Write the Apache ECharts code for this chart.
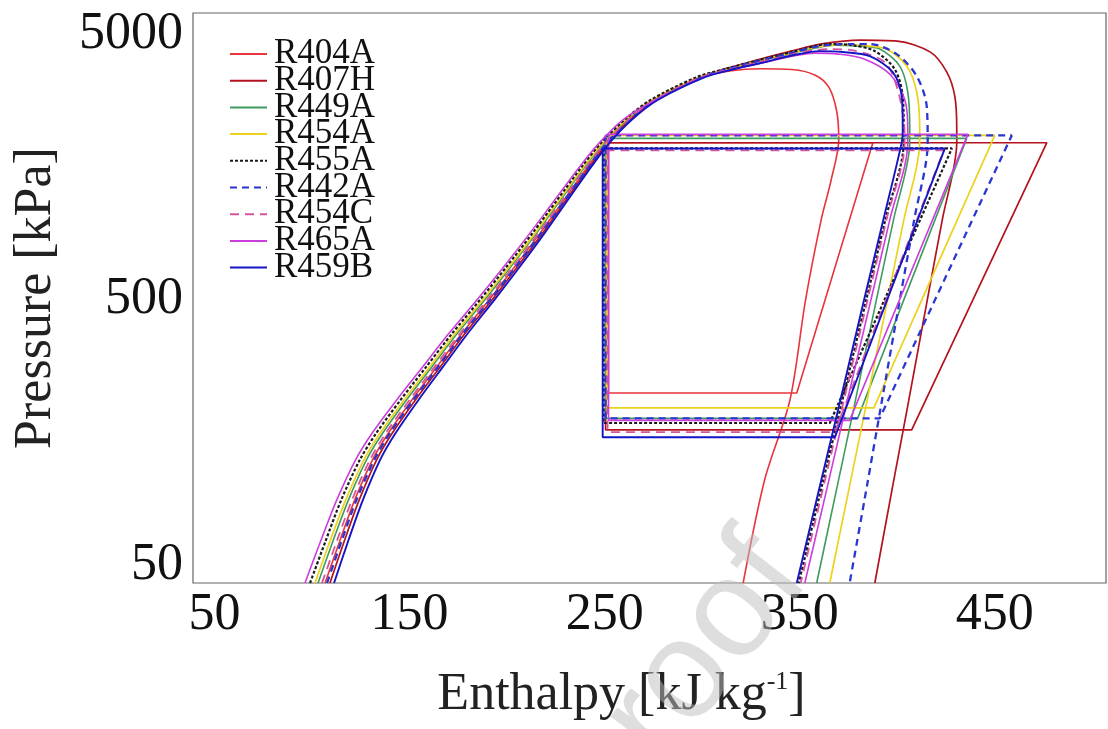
<!DOCTYPE html>
<html><head><meta charset="utf-8">
<script src="https://cdn.jsdelivr.net/npm/echarts@6/dist/echarts.min.js"></script>
<style>html,body{margin:0;padding:0;background:#fff}#c{width:1108px;height:729px}</style>
</head><body><div id="c"></div>
<script>
// ---------- data (enthalpy kJ/kg, pressure kPa) ----------
const names = ['R404A','R407H','R449A','R454A','R455A','R442A','R454C','R465A','R459B'];
const xTicks = [50,150,250,350,450];
const yTicks = [50,500,5000];

// saturation domes: liquid line (bottom→top), critical region, vapour line (top→bottom)
const R404A_sat = [[106.7,43],[114.3,62],[121.8,88],[130.9,124.5],[139.0,157],[151.2,210],[163.8,279],[177.0,375],[190.8,500],[203.9,666],[217.1,895],[229.3,1192],[241.4,1588],[251.1,1956],[262.8,2388],[275.6,2817],[299.6,3440],[315,3640],[330,3700],[346,3680],[358,3500],[365,3150],[369,2550],[370,2000],[366,1400],[361,1000],[353,500],[345,210],[332,105],[321,43]];
const R407H_sat = [[109.2,43],[116.6,62],[124.1,88],[133.0,124.5],[141.0,157],[153.0,210],[165.6,279],[178.6,375],[192.3,500],[205.3,666],[218.4,895],[230.4,1192],[242.4,1588],[252.0,1956],[263.5,2388],[275.8,2817],[298.9,3440],[313,3720],[328,3990],[346,4320],[362,4600],[381,4746],[400,4704],[417,4275],[425.4,3594],[429.5,2917],[430.5,2190],[430.5,1956],[423.1,1002],[415.4,500],[405.4,200],[397.7,100],[388.5,43]];
const R449A_sat = [[103.1,43],[110.8,62],[118.6,88],[127.8,124.5],[136.1,157],[148.4,210],[161.3,279],[174.6,375],[188.6,500],[201.9,666],[215.3,895],[227.6,1192],[240.0,1588],[249.8,1956],[261.7,2388],[274.5,2817],[298.7,3440],[313,3688],[327,3920],[345,4210],[358,4430],[368,4540],[380,4500],[391,4389],[401.3,3785],[405.4,3020],[406.4,2190],[406.4,1956],[398.1,1002],[389.3,500],[378.0,200],[369.3,100],[358.7,43]];
const R454A_sat = [[101.5,43],[109.3,62],[117.2,88],[126.5,124.5],[134.8,157],[147.2,210],[160.2,279],[173.6,375],[187.6,500],[201.1,666],[214.5,895],[226.9,1192],[239.4,1588],[249.3,1956],[261.2,2388],[274.0,2817],[298.2,3440],[313,3690],[327,3930],[345,4230],[358,4450],[370.5,4560],[383,4520],[394.6,4389],[404.9,3785],[410.0,3020],[411.5,2190],[411.5,1956],[403.4,1002],[395.0,500],[384.0,200],[375.6,100],[365.4,43]];
const R455A_sat = [[99.0,43],[107.0,62],[114.9,88],[124.4,124.5],[132.8,157],[145.4,210],[158.4,279],[172.0,375],[186.1,500],[199.7,666],[213.2,895],[225.8,1192],[238.4,1588],[248.4,1956],[260.5,2388],[273.3,2817],[297.1,3440],[312,3700],[327,3950],[345,4260],[365.4,4584],[377,4540],[388.5,4313],[398.7,3688],[402.8,2917],[403.3,2190],[403.3,1956],[393.9,1002],[384.1,500],[371.2,200],[361.4,100],[349.5,43]];
const R442A_sat = [[107.7,43],[115.2,62],[122.7,88],[131.8,124.5],[139.8,157],[151.9,210],[164.5,279],[177.6,375],[191.4,500],[204.5,666],[217.6,895],[229.7,1192],[241.8,1588],[251.5,1956],[263.1,2388],[275.9,2817],[299.8,3440],[313,3690],[327,3930],[345,4230],[360,4500],[375.6,4584],[385.9,4584],[399.7,4202],[410.0,3471],[415.1,2674],[415.6,1956],[408.7,1002],[401.3,500],[391.7,200],[384.5,100],[375.6,43]];
const R454C_sat = [[105.1,43],[112.8,62],[120.4,88],[129.6,124.5],[137.7,157],[150.0,210],[162.7,279],[176.0,375],[189.8,500],[203.1,666],[216.3,895],[228.6,1192],[240.8,1588],[250.6,1956],[262.3,2388],[275.1,2817],[299.2,3440],[314,3680],[328,3900],[345,4170],[356,4330],[365.4,4389],[378,4330],[393.6,3919],[399.7,3182],[403.3,2388],[403.8,1956],[394.5,1002],[384.8,500],[372.0,200],[362.3,100],[350.5,43]];
const R465A_sat = [[96.4,43],[104.5,62],[112.6,88],[122.2,124.5],[130.7,157],[143.4,210],[156.6,279],[170.3,375],[184.6,500],[198.3,666],[211.9,895],[224.6,1192],[237.3,1588],[247.5,1956],[259.7,2388],[275.8,2817],[300.9,3440],[315,3670],[330,3880],[346,4130],[357.7,4239],[370,4200],[383.3,4022],[396.2,3531],[403.8,2842],[405.4,2190],[405.4,1956],[396.2,1002],[386.5,500],[373.8,200],[364.3,100],[352.6,43]];
const R459B_sat = [[111.3,43],[118.6,62],[126.0,88],[134.8,124.5],[142.7,157],[154.6,210],[167.0,279],[180.0,375],[193.5,500],[206.5,666],[219.4,895],[231.3,1192],[243.3,1588],[252.7,1956],[264.2,2388],[277.0,2817],[301.4,3440],[315,3670],[330,3890],[346,4150],[360.3,4313],[372,4280],[385.9,4129],[397.7,3594],[402.3,2917],[402.8,2190],[402.3,1956],[392.9,1002],[383.0,500],[370.2,200],[360.4,100],[348.5,43]];

// refrigeration cycles: condenser outlet → evaporator inlet → evaporator outlet → compressor discharge → back
const R404A_cyc = [[252,1950],[252,223],[348.5,223],[387.5,1950],[252,1950]];
const R407H_cyc = [[250.5,1950],[250.5,162],[407.4,162],[476.7,1950],[250.5,1950]];
const R449A_cyc = [[250.5,2025],[250.5,179],[379.7,179],[435.6,2025],[250.5,2025]];
const R454A_cyc = [[251,2078],[251,196],[388,196],[450,2078],[251,2078]];
const R455A_cyc = [[249.5,1856],[249.5,172],[365.4,172],[428,1856],[249.5,1856]];
const R442A_cyc = [[250.5,2078],[250.5,179],[391,179],[458.7,2078],[250.5,2078]];
const R454C_cyc = [[251.5,1824],[251.5,159],[368,159],[423.8,1824],[251.5,1824]];
const R465A_cyc = [[252,2097],[252,176],[375.6,176],[436.2,2097],[252,2097]];
const R459B_cyc = [[249,1856],[249,152],[368,152],[424.4,1856],[249,1856]];

// ---------- styles ----------
const satData = [R404A_sat,R407H_sat,R449A_sat,R454A_sat,R455A_sat,R442A_sat,R454C_sat,R465A_sat,R459B_sat];
const cycData = [R404A_cyc,R407H_cyc,R449A_cyc,R454A_cyc,R455A_cyc,R442A_cyc,R454C_cyc,R465A_cyc,R459B_cyc];
const colors = ['#e8343c','#b3121e','#3f9a5e','#ecd21c','#1a1a1a','#2b35d0','#d4559c','#cc3ddd','#1414c4'];
const dashes = ['solid','solid','solid','solid',[3,2],[7,5],[9,6],'solid','solid'];
const widths = [1.6,1.7,1.6,1.7,2.2,2.3,1.8,1.6,1.9];

const FONT = 'Liberation Serif';
const series = [];
names.forEach((n,i)=>{
  const ls = {color:colors[i], width:widths[i], type:dashes[i]};
  series.push({name:n, type:'line', data:satData[i], symbol:'none', smooth:0.3, lineStyle:ls, itemStyle:{color:colors[i]}, silent:true});
  series.push({name:n, type:'line', data:cycData[i], symbol:'none', smooth:false, lineStyle:ls, itemStyle:{color:colors[i]}, silent:true});
});

const chart = echarts.init(document.getElementById('c'), null, {renderer:'canvas'});
chart.setOption({
  animation:false,
  backgroundColor:'#fff',
  grid:{left:193, right:2, top:13, bottom:146, show:true, borderColor:'#666', borderWidth:1.2, outerBoundsMode:'none', containLabel:false},
  legend:{data:names, orient:'vertical', left:229, top:36.5, padding:0, itemGap:-8.3, itemWidth:37, itemHeight:12,
    itemStyle:{opacity:0},
    textStyle:{fontFamily:FONT, fontSize:35, color:'#111', padding:[0,0,0,2]}},
  xAxis:{type:'value', min:39, max:507,
    axisLine:{show:false}, axisTick:{show:false}, splitLine:{show:false},
    axisLabel:{customValues:xTicks, fontFamily:FONT, fontSize:52, color:'#111', margin:6, formatter:v=>String(Math.round(v))},
    name:'Enthalpy [kJ kg{sup|-1}]', nameLocation:'middle', nameGap:86,
    nameTextStyle:{fontFamily:FONT, fontSize:52, color:'#222', padding:[0,56,0,0],
      rich:{sup:{fontFamily:FONT, fontSize:26, color:'#222', verticalAlign:'top', lineHeight:52}}}},
  yAxis:{type:'log', logBase:10, min:43, max:6000,
    axisLine:{show:false}, axisTick:{show:false}, splitLine:{show:false}, minorTick:{show:false},
    axisLabel:{customValues:yTicks, fontFamily:FONT, fontSize:52, color:'#111', margin:10, formatter:v=>String(Math.round(v))},
    name:'Pressure [kPa]', nameLocation:'middle', nameGap:131,
    nameTextStyle:{fontFamily:FONT, fontSize:52, color:'#222'}},
  graphic:[{type:'text', x:640, y:850, rotation:0.91, z:100, silent:true,
    style:{text:'proof', fill:'rgba(190,190,190,0.5)', font:'140px "Liberation Sans"', textVerticalAlign:'bottom'}}],
  series:series
});
</script></body></html>
